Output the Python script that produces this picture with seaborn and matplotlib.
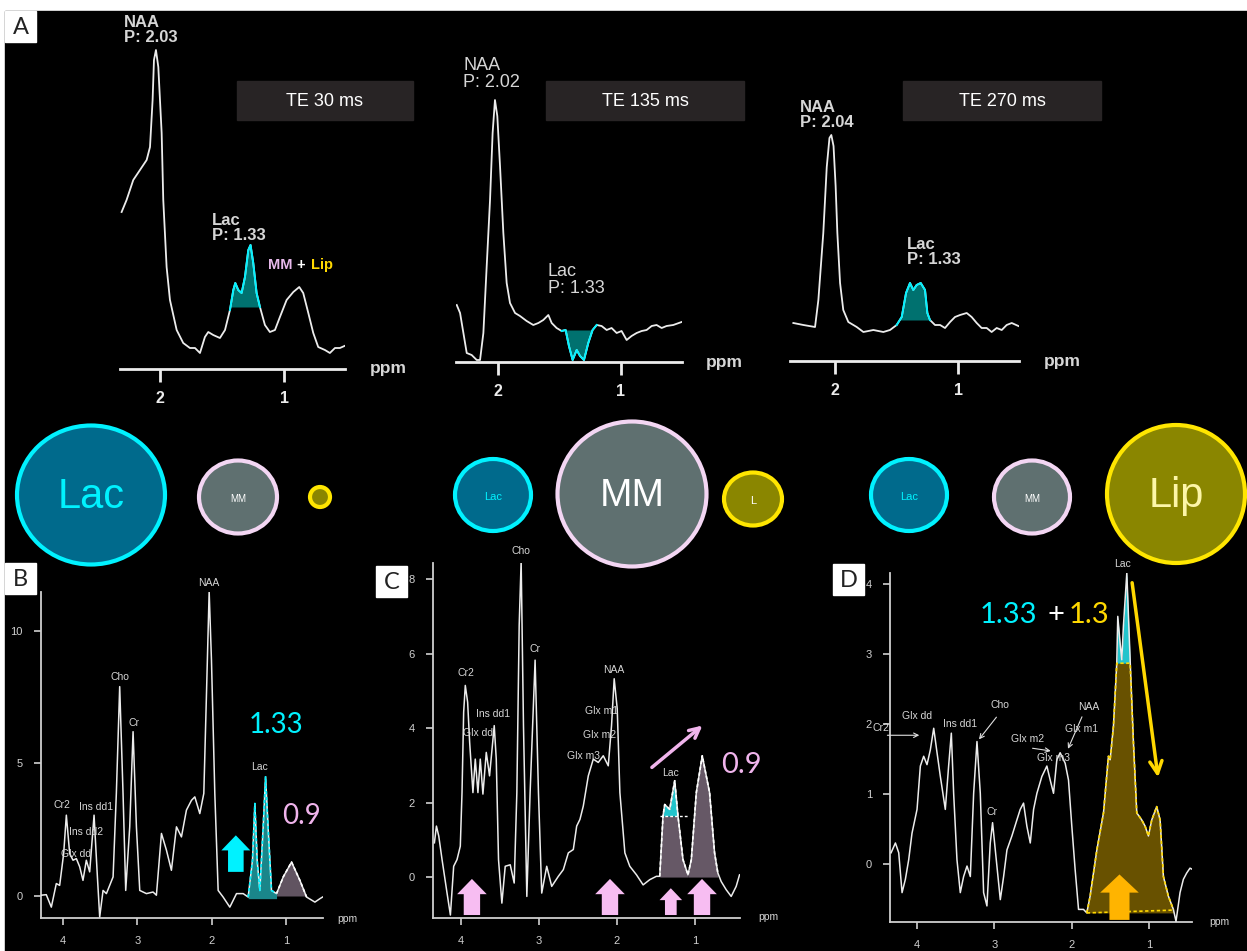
import numpy as np
import matplotlib
matplotlib.use("Agg")
import matplotlib.pyplot as plt
import seaborn as sns
from matplotlib.patches import Rectangle, Ellipse, FancyArrow
from matplotlib import font_manager

# ---------------- data ----------------
A1_ppm = [2.312, 2.272, 2.218, 2.164, 2.110, 2.083, 2.062, 2.051, 2.035, 2.016, 1.989, 1.976, 1.949, 1.922,
          1.868, 1.815, 1.761, 1.720, 1.680, 1.640, 1.613, 1.573, 1.519, 1.478, 1.438, 1.411, 1.395, 1.371,
          1.344, 1.317, 1.290, 1.272, 1.250, 1.223, 1.196, 1.156, 1.116, 1.075, 1.035, 0.981, 0.927, 0.879,
          0.847, 0.806, 0.766, 0.726, 0.672, 0.632, 0.591, 0.551, 0.497]
A1_int = [15.7, 16.9, 18.9, 19.9, 20.9, 22.2, 26.9, 30.9, 31.9, 30.2, 23.6, 16.9, 10.2, 6.9,
          3.9, 2.6, 2.1, 2.1, 1.6, 3.2, 3.7, 3.4, 3.1, 3.9, 5.9, 7.9, 8.6, 7.9,
          7.6, 9.2, 11.9, 12.4, 10.6, 7.6, 6.2, 4.4, 3.7, 3.9, 5.2, 6.9, 7.7, 8.2,
          7.6, 5.6, 3.6, 2.2, 1.9, 1.6, 2.1, 2.1, 2.4]

A2_ppm = [2.332, 2.305, 2.278, 2.251, 2.211, 2.170, 2.143, 2.116, 2.089, 2.062, 2.041, 2.022, 2.003, 1.981,
          1.954, 1.927, 1.900, 1.859, 1.819, 1.765, 1.711, 1.670, 1.630, 1.589, 1.562, 1.522, 1.481, 1.449,
          1.422, 1.392, 1.359, 1.332, 1.300, 1.265, 1.230, 1.197, 1.157, 1.116, 1.076, 1.035, 0.995, 0.954,
          0.914, 0.873, 0.832, 0.792, 0.751, 0.711, 0.670, 0.630, 0.576, 0.508]
A2_int = [5.7, 4.9, 2.9, 0.9, 0.7, 0.2, 0.2, 2.9, 9.6, 16.2, 22.9, 26.2, 24.6, 19.6,
          12.9, 7.9, 5.9, 4.9, 4.6, 4.1, 3.7, 3.9, 4.2, 4.7, 3.9, 3.4, 3.1, 3.2,
          1.6, 0.2, 1.2, 0.6, 0.2, 1.9, 3.2, 3.7, 3.6, 3.2, 3.4, 2.9, 3.1, 2.2,
          2.6, 2.9, 3.1, 3.2, 3.6, 3.7, 3.4, 3.6, 3.7, 4.0]

A3_ppm = [2.338, 2.256, 2.162, 2.135, 2.095, 2.067, 2.045, 2.030, 2.012, 1.995, 1.981, 1.959, 1.933, 1.892,
          1.824, 1.770, 1.689, 1.608, 1.554, 1.500, 1.459, 1.424, 1.392, 1.365, 1.338, 1.305, 1.270, 1.251,
          1.230, 1.189, 1.148, 1.108, 1.067, 1.027, 0.986, 0.932, 0.892, 0.851, 0.811, 0.770, 0.730, 0.689,
          0.648, 0.608, 0.567, 0.513]
A3_int = [3.8, 3.6, 3.4, 6.1, 12.8, 19.4, 22.3, 22.6, 21.5, 17.5, 12.8, 7.8, 5.1, 3.9,
          3.4, 2.9, 3.1, 2.9, 3.1, 3.6, 4.4, 6.8, 7.8, 7.1, 7.6, 7.8, 7.1, 4.8,
          4.1, 3.6, 3.6, 3.3, 3.9, 4.4, 4.6, 4.8, 4.4, 3.8, 3.3, 3.3, 2.9, 3.3,
          3.1, 3.6, 3.8, 3.5]

B_ppm = [4.292, 4.225, 4.157, 4.090, 4.045, 3.991, 3.955, 3.910, 3.865, 3.820, 3.775, 3.731, 3.686, 3.641,
         3.582, 3.537, 3.506, 3.461, 3.416, 3.326, 3.282, 3.237, 3.192, 3.156, 3.102, 3.057, 3.012, 2.967,
         2.877, 2.788, 2.743, 2.675, 2.608, 2.541, 2.473, 2.406, 2.339, 2.271, 2.226, 2.159, 2.105, 2.069,
         2.033, 2.002, 1.957, 1.912, 1.845, 1.755, 1.665, 1.575, 1.508, 1.450, 1.418, 1.387, 1.351, 1.306,
         1.274, 1.240, 1.194, 1.126, 1.036, 0.924, 0.812, 0.722, 0.610, 0.542, 0.507]
B_int = [0.03, 0.05, -0.42, 0.47, 0.40, 1.60, 3.05, 1.60, 1.35, 1.41, 1.10, 0.59, 1.35, 0.91,
         3.05, 0.72, -0.79, 0.21, 0.09, 0.72, 3.87, 7.90, 3.87, 0.21, 2.61, 6.20, 2.61, 0.21,
         0.09, 0.15, 0.03, 2.36, 1.73, 0.97, 2.61, 2.23, 3.24, 3.61, 3.74, 3.11, 3.87, 7.64,
         11.49, 8.90, 3.87, 0.21, -0.04, -0.42, 0.09, 0.09, -0.04, 1.35, 3.49, 1.35, 0.21, 2.61,
         4.50, 2.61, 0.21, 0.09, 0.72, 1.28, 0.59, -0.04, -0.23, -0.10, -0.04]

C_ppm = [4.341, 4.315, 4.285, 4.243, 4.179, 4.136, 4.094, 4.051, 4.009, 3.987, 3.966, 3.945, 3.915, 3.889,
         3.847, 3.817, 3.783, 3.753, 3.719, 3.676, 3.634, 3.574, 3.548, 3.519, 3.476, 3.433, 3.369, 3.318,
         3.284, 3.254, 3.229, 3.199, 3.156, 3.114, 3.050, 3.007, 2.965, 2.901, 2.837, 2.752, 2.688, 2.624,
         2.560, 2.517, 2.475, 2.432, 2.368, 2.304, 2.240, 2.176, 2.112, 2.070, 2.036, 1.997, 1.963, 1.899,
         1.836, 1.750, 1.665, 1.580, 1.495, 1.452, 1.410, 1.388, 1.324, 1.260, 1.218, 1.154, 1.090, 1.047,
         0.983, 0.907, 0.813, 0.749, 0.707, 0.664, 0.600, 0.536, 0.472, 0.429]
C_int = [0.92, 1.37, 1.10, 0.47, -0.43, -1.02, 0.29, 0.47, 0.83, 2.27, 4.43, 5.15, 4.70, 3.62,
         2.27, 3.17, 2.27, 3.17, 2.23, 3.35, 2.72, 4.07, 3.17, 0.47, -0.70, 0.29, 0.33, -0.16,
         2.27, 6.77, 8.49, 4.07, -0.52, 2.27, 5.83, 2.27, -0.43, 0.29, -0.25, 0.02, 0.20, 0.65,
         0.74, 1.37, 1.55, 1.91, 2.72, 3.17, 3.08, 3.26, 2.99, 4.07, 5.33, 4.52, 2.27, 0.65,
         0.29, 0.06, -0.21, -0.07, 0.02, 0.02, 1.64, 1.95, 1.82, 2.59, 1.64, 0.47, 0.06, 0.47,
         2.27, 3.26, 2.27, 0.65, 0.11, -0.12, -0.34, -0.52, -0.25, 0.06]

D_ppm = [4.336, 4.280, 4.237, 4.194, 4.151, 4.108, 4.065, 4.000, 3.957, 3.914, 3.871, 3.828, 3.784, 3.741,
         3.698, 3.634, 3.591, 3.556, 3.526, 3.483, 3.440, 3.397, 3.353, 3.310, 3.267, 3.224, 3.181, 3.138,
         3.095, 3.052, 3.022, 2.974, 2.922, 2.879, 2.836, 2.772, 2.707, 2.664, 2.621, 2.578, 2.534, 2.491,
         2.448, 2.384, 2.319, 2.276, 2.233, 2.190, 2.147, 2.082, 2.039, 1.996, 1.953, 1.909, 1.845, 1.802,
         1.759, 1.672, 1.586, 1.522, 1.500, 1.457, 1.414, 1.401, 1.371, 1.349, 1.328, 1.284, 1.241, 1.198,
         1.155, 1.091, 1.047, 1.004, 0.961, 0.897, 0.853, 0.810, 0.746, 0.681, 0.647, 0.595, 0.552, 0.509,
         0.466, 0.431]
D_int = [0.16, 0.30, 0.16, -0.41, -0.22, 0.06, 0.44, 0.78, 1.40, 1.54, 1.42, 1.63, 1.94, 1.59,
         1.25, 0.78, 1.40, 1.87, 1.01, 0.06, -0.41, -0.18, -0.03, -0.18, 1.01, 1.75, 1.01, -0.41,
         -0.60, 0.30, 0.59, 0.06, -0.51, -0.18, 0.20, 0.40, 0.63, 0.78, 0.87, 0.54, 0.30, 0.78,
         1.01, 1.25, 1.40, 1.20, 1.01, 1.49, 1.59, 1.44, 1.20, 0.54, -0.08, -0.65, -0.65, -0.70,
         -0.46, 0.20, 0.73, 1.54, 1.49, 1.97, 2.87, 3.54, 3.16, 2.92, 3.40, 4.16, 2.92, 1.73,
         0.73, 0.63, 0.54, 0.40, 0.63, 0.82, 0.63, -0.18, -0.46, -0.65, -0.82, -0.41, -0.22, -0.13,
         -0.06, -0.08]

TE_labels = ["TE 30 ms", "TE 135 ms", "TE 270 ms"]
B_peaks = [("NAA", 2.033, 11.8), ("Cho", 3.237, 8.25), ("Cr", 3.048, 6.54), ("Cr2", 4.009, 3.45),
           ("Ins dd1", 3.551, 3.36), ("Ins dd2", 3.695, 2.42), ("Glx dd", 3.82, 1.60), ("Lac", 1.351, 4.85)]
C_peaks = [("Cho", 3.229, 8.75), ("Cr2", 3.936, 5.49), ("Ins dd1", 3.591, 4.37), ("Glx dd", 3.783, 3.86),
           ("Cr", 3.05, 6.14), ("NAA", 2.04, 5.56), ("Glx m1", 2.198, 4.46), ("Glx m2", 2.228, 3.82),
           ("Glx m3", 2.432, 3.26), ("Lac", 1.311, 2.81)]
D_peaks = [("Lac", 1.336, 4.29), ("Glx dd", 4.0, 2.11), ("Cr2", 4.47, 1.94), ("Ins dd1", 3.44, 2.0),
           ("Cho", 2.93, 2.27), ("NAA", 1.78, 2.25), ("Glx m1", 1.866, 1.93), ("Glx m2", 2.569, 1.78),
           ("Glx m3", 2.233, 1.51), ("Cr", 3.03, 0.74)]

# ---------------- setup ----------------
W, H = 1247, 951
fig = plt.figure(figsize=(W / 100, H / 100), dpi=100, facecolor="white")
names = {f.name for f in font_manager.fontManager.ttflist}
plt.rcParams["font.family"] = ["Liberation Sans", "DejaVu Sans"]
NARROW = "Liberation Sans Narrow" if "Liberation Sans Narrow" in names else "Liberation Sans"
THIN = "Lato" if "Lato" in names else "Liberation Sans"

LINE = "#ececec"
TXT = "#d6d6d6"
CYAN = "#00f2ff"
PINK = "#f0b4ec"
YEL = "#ffd800"

bg = fig.add_axes([0, 0, 1, 1])
bg.set_xlim(0, W)
bg.set_ylim(H, 0)
bg.axis("off")
bg.set_zorder(0)
bg.add_patch(Rectangle((5, 11), W - 5, H - 11, color="black"))

# panel letter boxes
for lab, (x0, y0) in zip("ABCD", [(5, 11), (5, 563), (376, 566), (833, 564)]):
    bg.add_patch(Rectangle((x0, y0), 31, 31, color="white"))
    bg.text(x0 + 15.5, y0 + 16.5, lab, ha="center", va="center", fontsize=17, color="#222222",
            family=[THIN, "DejaVu Sans"])

# TE boxes
for lab, (x0, x1) in zip(TE_labels, [(237, 413), (546, 744), (903, 1101)]):
    bg.add_patch(Rectangle((x0, 81), x1 - x0, 39, color="#282425"))
    bg.text((x0 + x1) / 2, 101, lab, ha="center", va="center", fontsize=13, color="white")

# circles
circles = [
    (91, 495, 148, 139, "#006a8c", CYAN, "Lac", CYAN, 30),
    (238, 497, 78, 73, "#5f7070", "#f3d6f3", "MM", "white", 7),
    (320, 497, 20, 20, "#8a8600", "#ffe600", "", "white", 6),
    (493, 495, 76, 72, "#006a8c", CYAN, "Lac", CYAN, 8),
    (632, 494, 149, 145, "#5f7070", "#f3d6f3", "MM", "white", 28),
    (753, 499, 58, 53, "#8a8600", "#ffe600", "L", "white", 8),
    (909, 495, 76, 72, "#006a8c", CYAN, "Lac", CYAN, 8),
    (1032, 497, 76, 73, "#5f7070", "#f3d6f3", "MM", "white", 7),
    (1176, 494, 138, 138, "#8a8600", "#ffe600", "Lip", "#fdf6a8", 30),
]
for cx, cy, w, h, fc, ec, t, tc, fs in circles:
    bg.add_patch(Ellipse((cx, cy), w, h, facecolor=fc, edgecolor=ec, lw=3))
    if t:
        bg.text(cx, cy + 2, t, ha="center", va="center", color=tc, fontsize=fs, family=[NARROW, "DejaVu Sans"])


def px_axes(x0, x1, y0, y1):
    ax = fig.add_axes([x0 / W, 1 - y1 / H, (x1 - x0) / W, (y1 - y0) / H])
    ax.set_facecolor("none")
    ax.set_zorder(2)
    return ax


# ---------------- panel A ----------------
def panel_A(box, xl, ytop, ppm, inten, fill_rng, base, mode):
    ax = px_axes(*box)
    x = np.array(ppm)
    y = np.array(inten)
    sns.lineplot(x=x, y=y, ax=ax, color=LINE, lw=1.3, estimator=None, sort=False)
    lo, hi = fill_rng
    m = (x >= lo) & (x <= hi)
    if mode == "above":
        ax.fill_between(x, base, y, where=m & (y >= base), interpolate=True, color="#00716f", lw=0)
    else:
        ax.fill_between(x, y, base, where=m & (y <= base), interpolate=True, color="#00716f", lw=0)
    idx = np.where(m)[0]
    seg = slice(max(idx[0] - 1, 0), idx[-1] + 2)
    ax.plot(x[seg], y[seg], color=CYAN, lw=1.4)
    ax.set_xlim(*xl)
    ax.set_ylim(0, ytop)
    for s in ["top", "right", "left"]:
        ax.spines[s].set_visible(False)
    ax.spines["bottom"].set_color(LINE)
    ax.spines["bottom"].set_linewidth(2)
    ax.set_yticks([])
    ax.set_xticks([2, 1])
    ax.set_xticklabels(["2", "1"], fontweight="bold")
    ax.tick_params(axis="x", colors=LINE, length=9, width=2, pad=7, labelsize=11.5)
    ax.set_xlabel("")
    ax.set_ylabel("")
    return ax


axA1 = panel_A((120, 345, 11, 369), (2.325, 0.510), 35.8, A1_ppm, A1_int, (1.20, 1.435), 6.2, "above")
axA2 = panel_A((456, 682, 11, 362), (2.338, 0.505), 35.1, A2_ppm, A2_int, (1.23, 1.449), 3.2, "below")
axA3 = panel_A((790, 1019, 11, 361), (2.365, 0.508), 35.0, A3_ppm, A3_int, (1.25, 1.459), 4.1, "above")

lab_kw = dict(color=TXT, fontsize=12, fontweight="bold", ha="left", va="top", linespacing=1.0, clip_on=False)
axA1.text(2.293, 35.4, "NAA\nP: 2.03", **lab_kw)
axA1.text(1.581, 15.6, "Lac\nP: 1.33", **lab_kw)
axA1.text(1.130, 10.4, "MM", color="#e6b8ea", fontsize=10.5, fontweight="bold", va="center")
axA1.text(0.900, 10.4, "+", color="white", fontsize=10.5, fontweight="bold", va="center")
axA1.text(0.784, 10.4, "Lip", color=YEL, fontsize=10.5, fontweight="bold", va="center")
axA2.text(2.281, 30.5, "NAA\nP: 2.02", **{**lab_kw, "fontweight": "normal", "fontsize": 13})
axA2.text(1.592, 9.9, "Lac\nP: 1.33", **{**lab_kw, "fontweight": "normal", "fontsize": 13})
axA3.text(2.284, 26.1, "NAA\nP: 2.04", **lab_kw)
axA3.text(1.416, 12.4, "Lac\nP: 1.33", **lab_kw)
for ax in (axA1, axA2, axA3):
    ax.text(0.31, 0.0, "ppm", color=TXT, fontsize=12.5, fontweight="bold", ha="left", va="center", clip_on=False)


# ---------------- panels B, C, D ----------------
def panel_spec(box, xl, yl, yticks, ppm, inten):
    ax = px_axes(*box)
    x = np.array(ppm)
    y = np.array(inten)
    sns.lineplot(x=x, y=y, ax=ax, color=LINE, lw=1.1, estimator=None, sort=False, zorder=3)
    ax.set_xlim(*xl)
    ax.set_ylim(*yl)
    for s in ["top", "right"]:
        ax.spines[s].set_visible(False)
    for s in ["left", "bottom"]:
        ax.spines[s].set_color("#cfcfcf")
        ax.spines[s].set_linewidth(1.3)
    ax.set_xticks([4, 3, 2, 1])
    ax.set_yticks(yticks)
    ax.tick_params(colors="#d0d0d0", length=5, width=1.2, labelsize=8, pad=8)
    ax.set_xlabel("")
    ax.set_ylabel("")
    return ax, x, y


small = dict(color=TXT, fontsize=7.5, ha="center", va="center", clip_on=False, zorder=5)

# B
axB, xB, yB = panel_spec((41, 323, 592, 918), (4.296, 0.501), (-0.83, 11.47), [0, 5, 10], B_ppm, B_int)
mL = (xB >= 1.126) & (xB <= 1.508)
axB.fill_between(xB, -0.1, yB, where=mL, color="#1f9ea3", alpha=0.85, lw=0, zorder=2)
axB.plot(xB[mL], yB[mL], color=CYAN, lw=1.2, ls=(0, (2, 1.5)), zorder=4)
mM = (xB >= 0.72) & (xB <= 1.126)
axB.fill_between(xB, 0.0, yB, where=mM, color="#6c5e6c", alpha=0.9, lw=0, zorder=2)
axB.plot(xB[mM], yB[mM], color="white", lw=1.2, ls=(0, (2, 1.5)), zorder=4)
for t, px, py in B_peaks:
    axB.text(px, py, t, **small)
axB.add_patch(FancyArrow(1.674, 0.91, 0, 1.38, width=0.21, head_width=0.39, head_length=0.57,
                         length_includes_head=True, color=CYAN, lw=0, zorder=4))
axB.text(1.135, 6.45, "1.33", color=CYAN, fontsize=20, ha="center", va="center", family=[THIN, "DejaVu Sans"])
axB.text(0.789, 3.01, "0.9", color=PINK, fontsize=20, ha="center", va="center", family=[THIN, "DejaVu Sans"])
axB.text(0.18, -0.87, "ppm", color=TXT, fontsize=7.5, ha="center", va="center", clip_on=False)

# C
axC, xC, yC = panel_spec((433, 740, 563, 918), (4.359, 0.423), (-1.10, 8.44), [0, 2, 4, 6, 8], C_ppm, C_int)
capC = 1.64
m1 = (xC >= 1.09) & (xC <= 1.452)
m2 = (xC >= 0.707) & (xC <= 1.09)
axC.fill_between(xC, 0.0, np.minimum(yC, capC), where=m1, color="#6c5e6c", alpha=0.95, lw=0, zorder=2)
axC.fill_between(xC, 0.0, yC, where=m2, color="#6c5e6c", alpha=0.95, lw=0, zorder=2)
axC.fill_between(xC, capC, yC, where=m1 & (yC >= capC), interpolate=True, color="#22c4cc", lw=0, zorder=2)
axC.plot(xC[m1 | m2], yC[m1 | m2], color="white", lw=1.2, ls=(0, (2, 1.5)), zorder=4)
axC.plot([1.452, 1.09], [capC, capC], color="white", lw=1.0, ls=(0, (2, 1.5)), zorder=4)
for t, px, py in C_peaks:
    axC.text(px, py, t, **small)
for cx, top, sw, hw, hl in [(3.86, -0.05, 0.21, 0.38, 0.41), (2.09, -0.05, 0.21, 0.38, 0.41),
                            (1.31, -0.30, 0.15, 0.29, 0.32), (0.91, -0.05, 0.21, 0.38, 0.41)]:
    axC.add_patch(FancyArrow(cx, -1.02, 0, top + 1.02, width=sw, head_width=hw, head_length=hl,
                             length_includes_head=True, color="#f7bdf2", lw=0, zorder=4))
axC.annotate("", xy=(0.877, 4.12), xytext=(1.58, 2.90),
             arrowprops=dict(arrowstyle="->", color=PINK, lw=2.5, mutation_scale=18), zorder=5)
axC.text(0.664, 3.01, "0.9", color=PINK, fontsize=21, ha="left", va="center", family=[THIN, "DejaVu Sans"])
axC.text(0.064, -1.08, "ppm", color=TXT, fontsize=7.5, ha="center", va="center", clip_on=False)

# D
axD, xD, yD = panel_spec((890, 1192, 573, 922), (4.35, 0.44), (-0.83, 4.16), [0, 1, 2, 3, 4], D_ppm, D_int)
capD = 2.87
mD = (xD >= 0.681) & (xD <= 1.802)
axD.fill_between(xD, -0.70, np.minimum(yD, capD), where=mD, color="#6e5600", alpha=0.95, lw=0, zorder=2)
axD.fill_between(xD, capD, yD, where=mD & (yD >= capD), interpolate=True, color="#22c4cc", lw=0, zorder=2)
axD.plot(xD[mD], np.minimum(yD, capD)[mD], color=YEL, lw=1.2, ls=(0, (2, 1.5)), zorder=4)
axD.plot([1.802, 0.681], [-0.70, -0.66], color=YEL, lw=1.2, ls=(0, (2, 1.5)), zorder=4)
for t, px, py in D_peaks:
    axD.text(px, py, t, **small)
arr = dict(arrowstyle="->", color="#e0e0e0", lw=0.8, mutation_scale=8)
axD.annotate("", xy=(3.935, 1.84), xytext=(4.42, 1.84), arrowprops=arr, annotation_clip=False)
axD.annotate("", xy=(3.22, 1.75), xytext=(2.95, 2.13), arrowprops=arr)
axD.annotate("", xy=(2.233, 1.61), xytext=(2.54, 1.66), arrowprops=arr)
axD.annotate("", xy=(2.06, 1.61), xytext=(1.85, 2.14), arrowprops=arr)
axD.add_patch(FancyArrow(1.379, -0.80, 0, 0.65, width=0.26, head_width=0.50, head_length=0.26,
                         length_includes_head=True, color="#ffb400", lw=0, zorder=4))
axD.annotate("", xy=(0.875, 1.20), xytext=(1.22, 4.06),
             arrowprops=dict(arrowstyle="->", color=YEL, lw=2.5, mutation_scale=22), zorder=5)
axD.text(2.815, 3.56, "1.33", color=CYAN, fontsize=21, ha="center", va="center", family=[THIN, "DejaVu Sans"])
axD.text(2.20, 3.56, "+", color="white", fontsize=21, ha="center", va="center", family=[THIN, "DejaVu Sans"])
axD.text(1.78, 3.56, "1.3", color=YEL, fontsize=21, ha="center", va="center", family=[THIN, "DejaVu Sans"])
axD.text(0.08, -0.83, "ppm", color=TXT, fontsize=7.5, ha="center", va="center", clip_on=False)

fig.savefig("out.png", dpi=100, facecolor="white")
